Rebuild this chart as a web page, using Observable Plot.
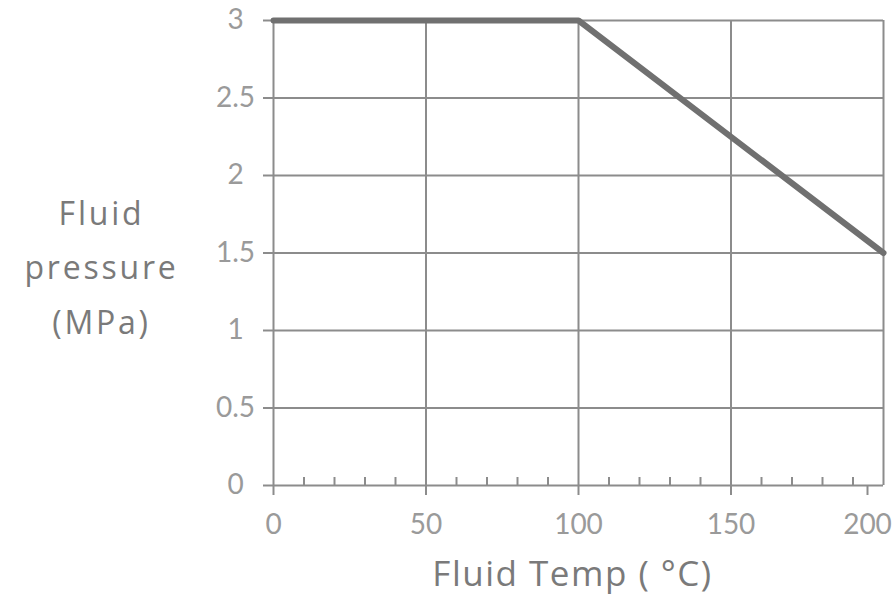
<!DOCTYPE html>
<html><head><meta charset="utf-8">
<script src="https://cdn.jsdelivr.net/npm/d3@7"></script>
<script src="https://cdn.jsdelivr.net/npm/@observablehq/plot@0.6"></script>
<style>body{margin:0;background:#fff}</style>
</head><body><div id="chart"></div>
<script>
const temps = [0, 100, 200];
const pressures = [3, 3, 1.5];
const xTicks = [0, 50, 100, 150, 200];
const xMinorTicks = [10, 20, 30, 40, 60, 70, 80, 90, 110, 120, 130, 140, 160, 170, 180, 190];
const yTicks = [0, 0.5, 1, 1.5, 2, 2.5, 3];
const xLabel = "Fluid Temp ( \u00B0C)";
const yLabel = "Fluid\npressure\n(MPa)";

const data = temps.map((t, i) => ({temp: t, pressure: pressures[i]}));
const gridColor = "#8c8c8c";
const textColor = "#9a9a9a";
const labelColor = "#7a7a7a";

const chart = Plot.plot({
  width: 892,
  height: 610,
  marginLeft: 273,
  marginRight: 9,
  marginTop: 20,
  marginBottom: 125,
  x: {domain: [0, 200]},
  y: {domain: [0, 3]},
  style: {fontFamily: "Lato, 'Open Sans', sans-serif", background: "white", overflow: "visible"},
  marks: [
    Plot.ruleX(xTicks, {stroke: gridColor, strokeWidth: 2}),
    Plot.ruleY(yTicks, {stroke: gridColor, strokeWidth: 2}),
    Plot.ruleX(xMinorTicks, {y1: 0, y2: 0, insetTop: -8, stroke: gridColor, strokeWidth: 2}),
    Plot.axisX(xTicks.slice(0, 4), {tickSize: 10, tickPadding: 19, fontSize: 28, stroke: gridColor, strokeWidth: 2, fill: textColor, label: null}),
    Plot.axisX(xTicks.slice(4), {tickSize: 10, tickPadding: 19, fontSize: 28, stroke: gridColor, strokeWidth: 2, fill: textColor, label: null, dx: -16}),
    Plot.axisY(yTicks, {tickSize: 10, tickPadding: 28, textAnchor: "middle", fontSize: 28, stroke: gridColor, strokeWidth: 2, fill: textColor, label: null, tickFormat: d => String(d)}),
    Plot.line(data, {x: "temp", y: "pressure", stroke: "#707070", strokeWidth: 6}),
    Plot.text([xLabel], {frameAnchor: "bottom", dy: 100, dx: -6, fontSize: 35, fontFamily: "'Open Sans', sans-serif", fill: labelColor, text: d => d}),
    Plot.text([yLabel], {frameAnchor: "left", dx: -172, dy: 9, fontSize: 32, fontFamily: "'Open Sans', sans-serif", lineHeight: 1.7, fill: labelColor, text: d => d, textAnchor: "middle"})
  ]
});
chart.querySelectorAll("text").forEach(t => {
  const s = t.textContent;
  if (s.includes("Temp")) t.setAttribute("letter-spacing", "1.5");
  else if (s.includes("Fluid") || s.includes("pressure") || s.includes("MPa")) t.setAttribute("letter-spacing", "2.8");
});
document.getElementById("chart").append(chart);
</script>
</body></html>
